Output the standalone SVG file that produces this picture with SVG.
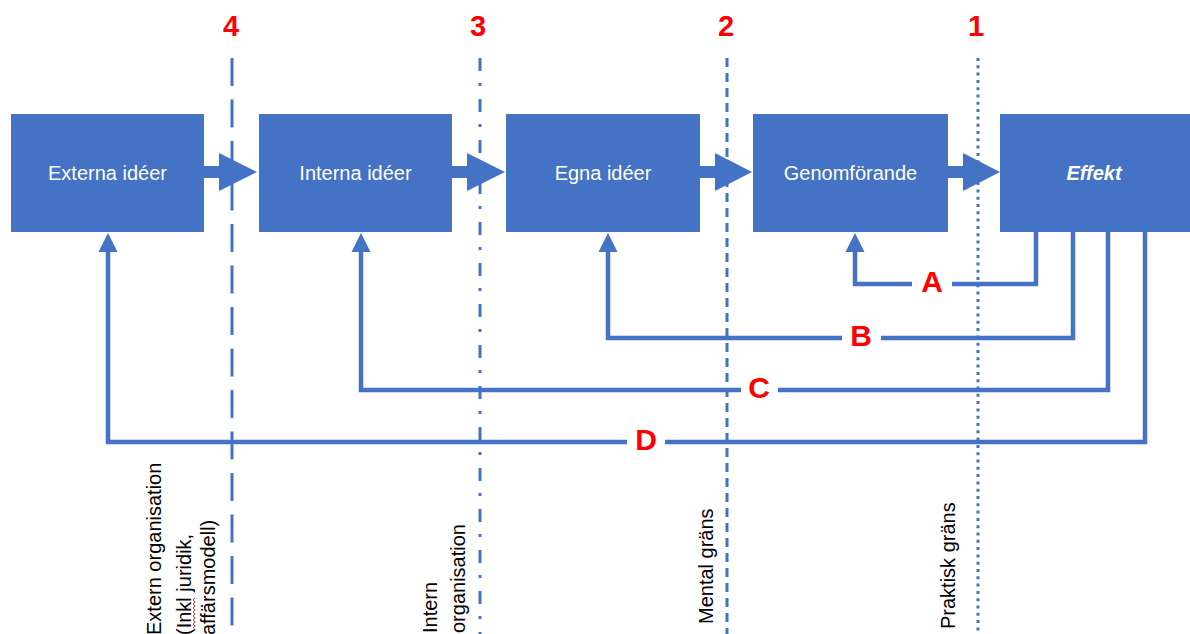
<svg xmlns="http://www.w3.org/2000/svg" width="1190" height="634" viewBox="0 0 1190 634">
  <style>
    .box { fill: #4472C4; }
    .boxlabel { font-family: "Liberation Sans", Arial, sans-serif; font-size: 20px; fill: #FFFFFF; text-anchor: middle; }
    .num { font-family: "Liberation Sans", Arial, sans-serif; font-weight: bold; font-size: 29px; fill: #FF0000; text-anchor: middle; }
    .loop { font-family: "Liberation Sans", Arial, sans-serif; font-weight: bold; font-size: 30px; fill: #FF0000; text-anchor: middle; }
    .side { font-family: "Liberation Sans", Arial, sans-serif; font-size: 20px; fill: #000000; }
    .divider { fill: none; stroke: #4472C4; stroke-width: 3; }
    .fb { fill: none; stroke: #4472C4; stroke-width: 4.5; stroke-linejoin: miter; }
    .head { fill: #4472C4; }
  </style>

  <!-- boundary lines 4..1 -->
  <g id="boundaries">
    <line class="divider" x1="232" y1="58" x2="232" y2="634" stroke-dasharray="28 13.5"/>
    <line class="divider" x1="480" y1="58" x2="480" y2="634" stroke-dasharray="13 12 3 13"/>
    <line class="divider" x1="727" y1="58" x2="727" y2="634" stroke-dasharray="9 6"/>
    <line class="divider" x1="978" y1="58" x2="978" y2="634" stroke-dasharray="3 4.3"/>
    <text class="num" x="231" y="36">4</text>
    <text class="num" x="478" y="36">3</text>
    <text class="num" x="726" y="36">2</text>
    <text class="num" x="976" y="36">1</text>
  </g>

  <!-- boundary captions -->
  <g id="captions">
    <text class="side" transform="translate(161,635) rotate(-90)">Extern organisation</text>
    <text class="side" transform="translate(191,635) rotate(-90)">(Inkl juridik,</text>
    <text class="side" transform="translate(215,635) rotate(-90)">affärsmodell)</text>
    <path d="M193,628 l2,-2 l-2,-2 l2,-2 l-2,-2 l2,-2 l-2,-2 l2,-2 l-2,-2 l2,-2 l-2,-2 l2,-2 l-2,-2 l2,-2 l-2,-2 l2,-2" fill="none" stroke="#FF0000" stroke-width="0.9"/>
    <text class="side" transform="translate(437,633) rotate(-90)">Intern</text>
    <text class="side" transform="translate(465,633) rotate(-90)">organisation</text>
    <text class="side" transform="translate(713,624) rotate(-90)">Mental gräns</text>
    <text class="side" transform="translate(955,629) rotate(-90)">Praktisk gräns</text>
  </g>

  <!-- nodes -->
  <g id="externa">
    <rect class="box" x="11" y="114" width="193" height="118"/>
    <text class="boxlabel" x="107.5" y="180">Externa idéer</text>
  </g>
  <g id="interna">
    <rect class="box" x="259" y="114" width="193" height="118"/>
    <text class="boxlabel" x="355.5" y="180">Interna idéer</text>
  </g>
  <g id="egna">
    <rect class="box" x="506" y="114" width="194" height="118"/>
    <text class="boxlabel" x="603" y="180">Egna idéer</text>
  </g>
  <g id="genomforande">
    <rect class="box" x="753" y="114" width="195" height="118"/>
    <text class="boxlabel" x="850.5" y="180">Genomförande</text>
  </g>
  <g id="effekt">
    <rect class="box" x="1000" y="114" width="190" height="118"/>
    <text class="boxlabel" x="1094" y="180" font-weight="bold" font-style="italic">Effekt</text>
  </g>

  <!-- connectors -->
  <g id="connectors">
    <!-- forward flow -->
    <polygon class="head" points="204,166 219,166 219,153 257,172 219,191 219,178 204,178"/>
    <polygon class="head" points="452,166 467,166 467,153 505,172 467,191 467,178 452,178"/>
    <polygon class="head" points="700,166 715,166 715,153 752,172 715,191 715,178 700,178"/>
    <polygon class="head" points="948,166 963,166 963,153 1000,172 963,191 963,178 948,178"/>

    <!-- feedback loops -->
    <path class="fb" d="M1036,232 V284 H952"/>
    <path class="fb" d="M912,284 H855 V250"/>
    <polygon class="head" points="855,233 864.5,252 845.5,252"/>

    <path class="fb" d="M1073,232 V338 H881"/>
    <path class="fb" d="M842,338 H608 V250"/>
    <polygon class="head" points="608,233 617.5,252 598.5,252"/>

    <path class="fb" d="M1108,232 V390 H778"/>
    <path class="fb" d="M741,390 H361 V250"/>
    <polygon class="head" points="361,233 370.5,252 351.5,252"/>

    <path class="fb" d="M1145,232 V442 H665"/>
    <path class="fb" d="M627,442 H108 V250"/>
    <polygon class="head" points="108,233 117.5,252 98.5,252"/>

    <text class="loop" x="932" y="292">A</text>
    <text class="loop" x="861" y="346">B</text>
    <text class="loop" x="759" y="398">C</text>
    <text class="loop" x="646" y="450">D</text>
  </g>
</svg>
